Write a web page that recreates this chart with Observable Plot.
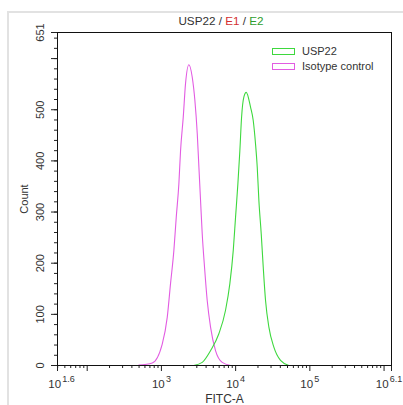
<!DOCTYPE html>
<html>
<head>
<meta charset="utf-8">
<script src="https://cdn.jsdelivr.net/npm/d3@7"></script>
<script src="https://cdn.jsdelivr.net/npm/@observablehq/plot@0.6"></script>
<style>
  html, body { margin: 0; padding: 0; background: #fff; }
  #wrap { position: relative; width: 403px; height: 405px; overflow: hidden; font-family: "Liberation Sans", Arial, sans-serif; }
  #border { position: absolute; left: 7px; top: 11px; width: 600px; height: 600px; border-left: 2px solid #e2e2e2; border-top: 2px solid #e2e2e2; }
  #title { position: absolute; left: 121px; width: 200px; top: 14px; text-align: center; font-size: 11.7px; line-height: 14px; color: #333; white-space: nowrap; }
  .sw { position: absolute; width: 21px; height: 5px; background: #fff; }
  .lt { position: absolute; font-size: 11px; line-height: 13px; color: #333; white-space: nowrap; }
  svg { position: absolute; left: 0; top: 0; }
</style>
</head>
<body>
<div id="wrap">
  <div id="border"></div>
</div>
<script>
// ---- data ----
const isoX = [497, 752, 1026, 1198, 1327, 1472, 1585, 1718, 1811, 1968, 2113, 2344, 2600, 2825, 3041, 3199, 3367, 3548, 3811, 4140, 4592, 5358, 6592, 8550];
const isoY = [1, 5, 42, 94, 160, 225, 290, 355, 420, 485, 551, 588, 564, 518, 453, 388, 323, 257, 192, 127, 75, 29, 6, 0];
const uspX = [2735, 3548, 4592, 5943, 7311, 8358, 9290, 9977, 10720, 11400, 12020, 12920, 13900, 15880, 17260, 18540, 19540, 20560, 22130, 23550, 25290, 28050, 32730, 40270, 52120];
const uspY = [0, 6, 29, 62, 108, 160, 225, 290, 355, 420, 485, 525, 534, 505, 479, 433, 388, 323, 257, 192, 127, 75, 36, 10, 0];

const seriesNames = ["USP22", "Isotype control"];
const seriesColors = ["#3ed83e", "#e25ce2"];

const xDomain = [10 ** 1.6, 10 ** 6.1];
const xLabelTicks = [10 ** 1.6, 1e3, 1e4, 1e5, 10 ** 6.1];
const xLabelExps = ["1.6", "3", "4", "5", "6.1"];
const xMajorTicks = [10 ** 1.6, 1e2, 1e3, 1e4, 1e5, 1e6, 10 ** 6.1];
const yDomain = [0, 651];
const yLabels = [0, 100, 200, 300, 400, 500, 651];
const yMajorTicks = [0, 100, 200, 300, 400, 500, 600, 651];
const titleParts = [["USP22", "#333"], [" / ", "#333"], ["E1", "#d42f2f"], [" / ", "#333"], ["E2", "#2e9e2e"]];
const xTitle = "FITC-A";
const yTitle = "Count";

// minor log ticks (2..9 × 10^k) inside the domain
const xMinorTicks = [];
for (let k = 1; k <= 6; k++) for (let m = 2; m <= 9; m++) {
  const v = m * 10 ** k;
  if (v > xDomain[0] && v < xDomain[1]) xMinorTicks.push(v);
}
const yMinorTicks = d3.range(20, 651, 20);

const iso = isoX.map((x, i) => ({x, y: isoY[i]}));
const usp = uspX.map((x, i) => ({x, y: uspY[i]}));
const xLab = xLabelTicks.map((x, i) => ({x, t: "10|" + xLabelExps[i]}));

const labStyle = {x: "x", text: "t", frameAnchor: "bottom", dy: 22, lineAnchor: "bottom", textAnchor: "middle", fontSize: 11.5, fill: "#333"};

const chart = Plot.plot({
  width: 403,
  height: 405,
  marginLeft: 57,
  marginRight: 12,
  marginTop: 32,
  marginBottom: 40,
  style: {fontFamily: "'Liberation Sans', Arial, sans-serif", fontSize: "11px", color: "#222", background: "transparent"},
  x: {type: "log", domain: xDomain, axis: null},
  y: {domain: yDomain, axis: null},
  marks: [
    Plot.axisX({ticks: xMinorTicks, tickSize: 3, tickFormat: () => "", label: null, stroke: "#222"}),
    Plot.axisX({ticks: xMajorTicks, tickSize: 6, tickFormat: () => "", label: null, stroke: "#222"}),
    Plot.axisY({ticks: yMinorTicks, tickSize: 3, tickFormat: () => "", label: null, stroke: "#222"}),
    Plot.axisY({ticks: yMajorTicks, tickSize: 6, tickFormat: () => "", label: null, stroke: "#222"}),
    Plot.text(yLabels, {y: d => d, text: d => String(d), frameAnchor: "left", dx: -17, rotate: -90, textAnchor: "middle", lineAnchor: "middle", fontSize: 11, fill: "#333"}),
    Plot.text([yTitle], {text: d => d, frameAnchor: "left", dx: -33, rotate: -90, textAnchor: "middle", lineAnchor: "middle", fontSize: 11, fill: "#333"}),
    Plot.text(xLab.slice(0, 1), {...labStyle, dx: 4}),
    Plot.text(xLab.slice(1, 4), {...labStyle}),
    Plot.text(xLab.slice(4), {...labStyle, dx: -2.5}),
    Plot.text([xTitle], {text: d => d, frameAnchor: "bottom", dy: 37.5, lineAnchor: "bottom", textAnchor: "middle", fontSize: 12, fill: "#333"}),
    Plot.line(iso, {x: "x", y: "y", stroke: seriesColors[1], strokeWidth: 1.1, curve: "monotone-x"}),
    Plot.line(usp, {x: "x", y: "y", stroke: seriesColors[0], strokeWidth: 1.1, curve: "monotone-x"}),
    Plot.frame({stroke: "#111", strokeWidth: 1})
  ]
});

// superscript exponents on x tick labels
chart.querySelectorAll("text").forEach(t => {
  if (!t.textContent.includes("|")) return;
  const [base, exp] = t.textContent.split("|");
  t.textContent = "";
  const s1 = document.createElementNS("http://www.w3.org/2000/svg", "tspan");
  s1.textContent = base;
  const s2 = document.createElementNS("http://www.w3.org/2000/svg", "tspan");
  s2.textContent = exp;
  s2.setAttribute("dy", "-5.5");
  s2.setAttribute("dx", "1.2");
  s2.setAttribute("font-size", "9");
  t.appendChild(s1);
  t.appendChild(s2);
});

const wrap = document.getElementById("wrap");
wrap.appendChild(chart);

// title
const title = document.createElement("div");
title.id = "title";
titleParts.forEach(([txt, col]) => {
  const s = document.createElement("span");
  s.textContent = txt;
  s.style.color = col;
  title.appendChild(s);
});
wrap.appendChild(title);

// legend
const legTops = [48, 63];
seriesNames.forEach((name, i) => {
  const sw = document.createElement("div");
  sw.className = "sw";
  sw.style.left = "272px";
  sw.style.top = legTops[i] + "px";
  sw.style.border = "1.2px solid " + seriesColors[i];
  wrap.appendChild(sw);
  const lt = document.createElement("div");
  lt.className = "lt";
  lt.textContent = name;
  lt.style.left = "302px";
  lt.style.top = (legTops[i] - 3) + "px";
  wrap.appendChild(lt);
});
</script>
</body>
</html>
